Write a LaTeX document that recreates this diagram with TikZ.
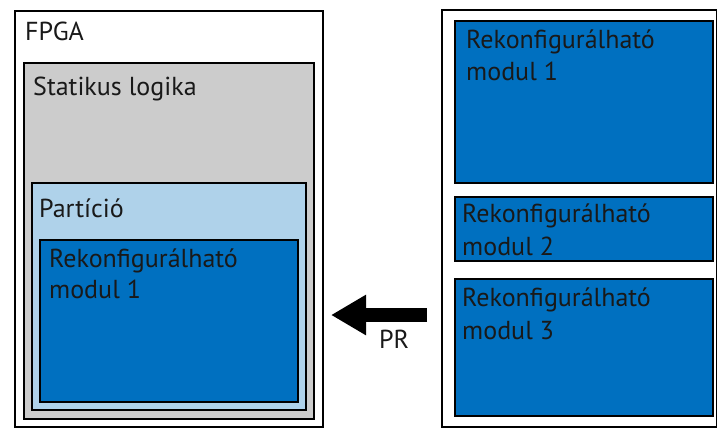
\documentclass[tikz,border=0pt]{standalone}
\usepackage{fontspec}
\setmainfont{PT Sans}
\usetikzlibrary{arrows.meta}
\definecolor{statgray}{RGB}{204,204,204}
\definecolor{partblue}{RGB}{175,210,234}
\definecolor{modblue}{RGB}{0,112,192}
\tikzset{
  box/.style={draw=black, line width=2pt, rectangle, inner sep=0pt, anchor=north west},
  lbl/.style={anchor=base west, inner sep=0pt, font=\fontsize{26}{30}\selectfont, text=black!90},
}
\begin{document}
\begin{tikzpicture}[x=1pt,y=-1pt]
\useasboundingbox (0,0) rectangle (717,434);
% left side
\node[box, fill=white, minimum width=308pt, minimum height=416pt] (fpga) at (14,10) {};
\node[box, fill=statgray, minimum width=290pt, minimum height=356pt] (stat) at (23,62) {};
\node[box, fill=partblue, minimum width=274pt, minimum height=227pt] (part) at (31,182) {};
\node[box, fill=modblue, minimum width=258pt, minimum height=162pt] (lrm) at (39,239) {};
\node[lbl] (tfpga) at (25,40) {FPGA};
\node[lbl] (tstat) at (33,95) {Statikus logika};
\node[lbl] (tpart) at (39,217) {Partíció};
\node[lbl] (tlrm1) at (49,267) {Rekonfigurálható};
\node[lbl] (tlrm2) at (49,298) {modul 1};
% right side
\node[box, fill=white, minimum width=275pt, minimum height=417pt] (lib) at (441,9) {};
\node[box, fill=modblue, minimum width=258pt, minimum height=162pt] (rm1) at (454,20) {};
\node[box, fill=modblue, minimum width=258pt, minimum height=64pt] (rm2) at (454,196) {};
\node[box, fill=modblue, minimum width=258pt, minimum height=137pt] (rm3) at (454,278) {};
\node[lbl] (trm1a) at (466,48) {Rekonfigurálható};
\node[lbl] (trm1b) at (466,80) {modul 1};
\node[lbl] (trm2a) at (462,222) {Rekonfigurálható};
\node[lbl] (trm2b) at (462,255) {modul 2};
\node[lbl] (trm3a) at (462,306) {Rekonfigurálható};
\node[lbl] (trm3b) at (462,339) {modul 3};
% arrow
\coordinate (atail) at (427,315);
\coordinate (ahead) at (331,315);
\draw[line width=14pt, -{Triangle[length=35pt, width=38pt]}] (atail) -- (ahead);
\node[lbl] (tpr) at (379,348) {PR};
\end{tikzpicture}
\end{document}
